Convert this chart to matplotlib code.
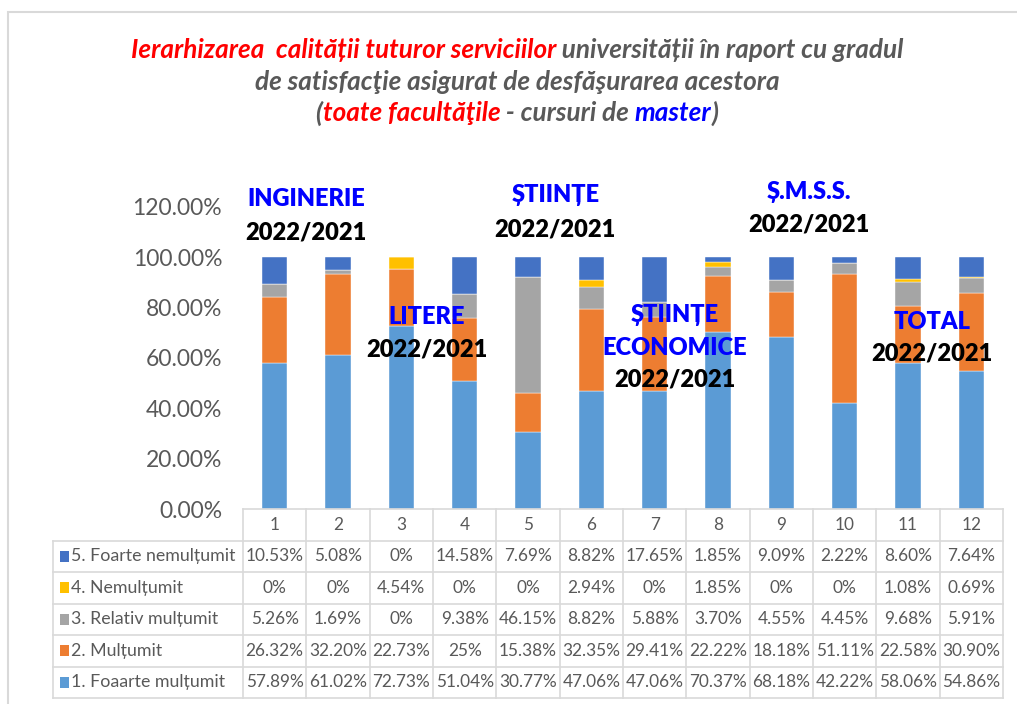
import matplotlib
matplotlib.use("Agg")
import matplotlib.pyplot as plt
from matplotlib.patches import Rectangle
from matplotlib.ticker import FuncFormatter
import numpy as np

plt.rcParams['font.family'] = ['Lato', 'DejaVu Sans']

categories = [str(i) for i in range(1, 13)]
series_names = ["1. Foaarte mulțumit", "2. Mulțumit", "3. Relativ mulțumit",
                "4. Nemulțumit", "5. Foarte nemulțumit"]
foarte_multumit = [57.89, 61.02, 72.73, 51.04, 30.77, 47.06, 47.06, 70.37, 68.18, 42.22, 58.06, 54.86]
multumit = [26.32, 32.20, 22.73, 25, 15.38, 32.35, 29.41, 22.22, 18.18, 51.11, 22.58, 30.90]
relativ = [5.26, 1.69, 0, 9.38, 46.15, 8.82, 5.88, 3.70, 4.55, 4.45, 9.68, 5.91]
nemultumit = [0, 0, 4.54, 0, 0, 2.94, 0, 1.85, 0, 0, 1.08, 0.69]
foarte_nemultumit = [10.53, 5.08, 0, 14.58, 7.69, 8.82, 17.65, 1.85, 9.09, 2.22, 8.60, 7.64]
series = [foarte_multumit, multumit, relativ, nemultumit, foarte_nemultumit]
colors = ["#5B9BD5", "#ED7D31", "#A5A5A5", "#FFC000", "#4472C4"]

yticks = [0, 0.2, 0.4, 0.6, 0.8, 1.0, 1.2]

# faculty annotations: (x position, [(text, color, y)])
annotations = [
    (1.5, [("INGINERIE", "#0000FF", 1.231), ("2022/2021", "black", 1.100)]),
    (3.4, [("LITERE", "#0000FF", 0.761), ("2022/2021", "black", 0.633)]),
    (5.43, [("ȘTIINȚE", "#0000FF", 1.247), ("2022/2021", "black", 1.112)]),
    (7.32, [("ȘTIINȚE", "#0000FF", 0.769), ("ECONOMICE", "#0000FF", 0.641), ("2022/2021", "black", 0.514)]),
    (9.43, [("Ș.M.S.S.", "#0000FF", 1.259), ("2022/2021", "black", 1.131)]),
    (11.38, [("TOTAL", "#0000FF", 0.745), ("2022/2021", "black", 0.618)]),
]

W, H = 1017, 704
fig = plt.figure(figsize=(W / 100, H / 100), dpi=100)
fig.patch.set_facecolor("white")

# outer frame
fig.patches.append(Rectangle((8 / W, -0.05), 1.2, 1 - 12 / H + 0.05, transform=fig.transFigure,
                             fill=False, edgecolor="#D9D9D9", linewidth=1.5, zorder=0))

# main axes
ax_left, ax_right = 243 / W, 1003 / W
ax_bottom, ax_top = 1 - 509 / H, 1 - 207 / H
ax = fig.add_axes([ax_left, ax_bottom, ax_right - ax_left, ax_top - ax_bottom])
x = np.arange(1, 13)
bottom = np.zeros(12)
for vals, c, name in zip(series, colors, series_names):
    v = np.array(vals) / 100.0
    ax.bar(x, v, 0.4, bottom=bottom, color=c, edgecolor="white", linewidth=0.3, label=name)
    bottom += v
ax.set_xlim(0.5, 12.5)
ax.set_ylim(0, 1.2)
ax.set_yticks(yticks)
ax.yaxis.set_major_formatter(FuncFormatter(lambda v, p: f"{v*100:.2f}%"))
ax.tick_params(axis='y', length=0, pad=15, labelsize=16.5, labelcolor="#595959")
ax.set_xticks([])
for s in ax.spines.values():
    s.set_visible(False)

for xpos, lines in annotations:
    for txt, col, yv in lines:
        ax.text(xpos, yv, txt, color=col, fontsize=17, fontweight="heavy",
                ha="center", va="center", clip_on=False, zorder=5)

# data table
tax = fig.add_axes([53 / W, 1 - 698 / H, (1003 - 53) / W, (698 - 509) / H])
tax.set_xlim(-2.5, 12.5)
tax.set_ylim(6, 0)
tax.axis("off")
gc = "#D9D9D9"
lw = 1.2
tax.plot([0.5, 12.5], [0, 0], color=gc, lw=lw, clip_on=False)
for r in range(1, 7):
    tax.plot([-2.5, 12.5], [r, r], color=gc, lw=lw, clip_on=False)
for c in np.arange(0.5, 13.5, 1):
    tax.plot([c, c], [0, 6], color=gc, lw=lw, clip_on=False)
tax.plot([-2.5, -2.5], [1, 6], color=gc, lw=lw, clip_on=False)

tc = "#595959"
fs = 12.4
for i, cat in enumerate(categories):
    tax.text(i + 1, 0.5, cat, ha="center", va="center", fontsize=fs, color=tc)


def fmt(v):
    return f"{int(v)}%" if float(v).is_integer() else f"{v:.2f}%"


rows = list(zip(series_names, series, colors))[::-1]
for r, (name, vals, col) in enumerate(rows, start=1):
    yc = r + 0.5
    tax.add_patch(Rectangle((-2.39, yc - 0.17), 0.14, 0.34, facecolor=col, edgecolor="none", clip_on=False))
    tax.text(-2.22, yc, name, ha="left", va="center", fontsize=12.8, color=tc)
    for i, v in enumerate(vals):
        tax.text(i + 1, yc, fmt(v), ha="center", va="center", fontsize=fs, color=tc)

# title with mixed colours
red, grey, blue = "#FF0000", "#595959", "#0000FF"
title_lines = [
    (1 - 50 / H, [("Ierarhizarea  calității tuturor serviciilor", red), (" universității în raport cu gradul", grey)]),
    (1 - 82 / H, [("de satisfacţie asigurat de desfăşurarea acestora", grey)]),
    (1 - 113 / H, [("(", grey), ("toate facultăţile", red), (" - cursuri de ", grey), ("master", blue), (")", grey)]),
]
renderer = fig.canvas.get_renderer()
tfs = 18.8
for yv, pieces in title_lines:
    texts = []
    for s, col in pieces:
        t = fig.text(0, yv, s, color=col, fontsize=tfs, fontweight="bold", fontstyle="italic",
                     ha="left", va="center")
        texts.append(t)
    widths = [t.get_window_extent(renderer).width / W for t in texts]
    total = sum(widths)
    xs = 517 / W - total / 2
    for t, w in zip(texts, widths):
        t.set_x(xs)
        xs += w

fig.savefig("out.png", dpi=100, facecolor="white")
